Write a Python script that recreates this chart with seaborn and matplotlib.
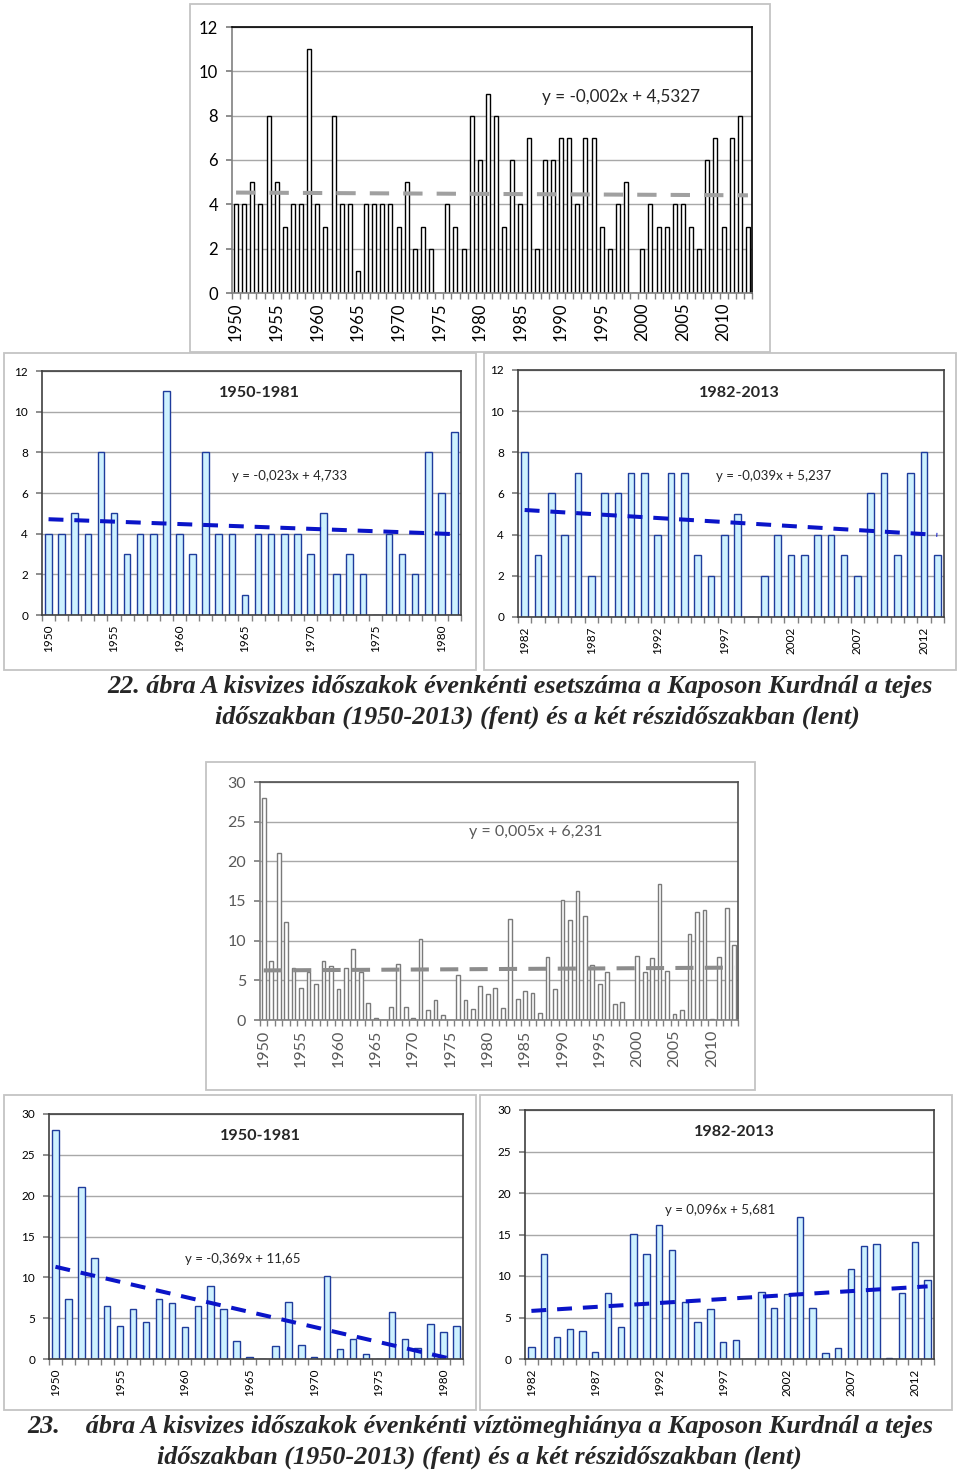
import matplotlib
matplotlib.use("Agg")
import matplotlib.pyplot as plt
import numpy as np
import pandas as pd
import seaborn as sns
from matplotlib.patches import Rectangle

sns.set_theme(style="white")
plt.rcParams["font.family"] = ["Lato", "DejaVu Sans"]

W, H = 960, 1473

YEARS_A = list(range(1950, 1982))
YEARS_B = list(range(1982, 2014))
YEARS_ALL = YEARS_A + YEARS_B

# evenkenti esetszam (number of low-flow periods per year)
EVENTS_A = [4, 4, 5, 4, 8, 5, 3, 4, 4, 11, 4, 3, 8, 4, 4, 1,
            4, 4, 4, 4, 3, 5, 2, 3, 2, 0, 4, 3, 2, 8, 6, 9]
EVENTS_B = [8, 3, 6, 4, 7, 2, 6, 6, 7, 7, 4, 7, 7, 3, 2, 4,
            5, 0, 2, 4, 3, 3, 4, 4, 3, 2, 6, 7, 3, 7, 8, 3]

# evenkenti viztomeghiany (water volume deficit per year)
DEFICIT_A = [28.0, 7.4, 21.1, 12.4, 6.5, 4.0, 6.1, 4.5, 7.4, 6.8, 3.9, 6.5, 9.0, 6.1, 2.2, 0.3,
             0.0, 1.6, 7.0, 1.7, 0.3, 10.2, 1.2, 2.5, 0.6, 0.0, 5.7, 2.5, 1.4, 4.3, 3.3, 4.0]
DEFICIT_B = [1.5, 12.7, 2.7, 3.6, 3.4, 0.9, 8.0, 3.9, 15.1, 12.6, 16.2, 13.1, 6.9, 4.5, 6.0, 2.0,
             2.3, 0.0, 8.1, 6.1, 7.8, 17.1, 6.2, 0.7, 1.3, 10.8, 13.6, 13.9, 0.15, 8.0, 14.1, 9.5]

EQ_TOP = "y = -0,002x + 4,5327"
EQ_MID_A = "y = -0,023x + 4,733"
EQ_MID_B = "y = -0,039x + 5,237"
EQ_LOW = "y = 0,005x + 6,231"
EQ_BOT_A = "y = -0,369x + 11,65"
EQ_BOT_B = "y = 0,096x + 5,681"

CAPTION_22 = ["22. ábra A kisvizes időszakok évenkénti esetszáma a Kaposon Kurdnál a tejes",
              "időszakban (1950-2013) (fent) és a két részidőszakban (lent)"]
CAPTION_23 = ["23.    ábra A kisvizes időszakok évenkénti víztömeghiánya a Kaposon Kurdnál a tejes",
              "időszakban (1950-2013) (fent) és a két részidőszakban (lent)"]

BLUE_FILL = "#cdf1ff"
BLUE_EDGE = "#1f3c9c"
BLUE_TREND = "#0a14c8"


def px_axes(fig, x0, y0, x1, y1):
    return fig.add_axes([x0 / W, 1 - y1 / H, (x1 - x0) / W, (y1 - y0) / H])


def chart_box(fig, x0, y0, x1, y1):
    fig.patches.append(Rectangle((x0 / W, 1 - y1 / H), (x1 - x0) / W, (y1 - y0) / H,
                                 transform=fig.transFigure, fill=False,
                                 ec="#c4c4c4", lw=1.3))


def draw_panel(ax, years, values, ymax, ystep, fill, edge, trend, dash, fs,
               tcolor="black", spine_lt="#808080", spine_rt="#404040"):
    n = len(years)
    df = pd.DataFrame({"year": years, "value": values})
    sns.barplot(data=df, x="year", y="value", ax=ax, color=fill, edgecolor=edge,
                linewidth=1, width=0.5, saturation=1, errorbar=None)
    pos = np.arange(n)
    sns.regplot(x=pos, y=np.asarray(values, float), ax=ax, scatter=False, ci=None,
                truncate=True, line_kws=dict(color=trend, lw=2.9, ls=(0, dash)))
    ax.set_xlim(-0.5, n - 0.5)
    ax.set_ylim(0, ymax)
    ax.set_yticks(np.arange(0, ymax + 1, ystep))
    ax.set_xticks(pos[::5])
    ax.set_xticklabels([str(y) for y in years[::5]], rotation=90)
    ax.set_xticks(np.arange(-0.5, n, 1), minor=True)
    ax.tick_params(axis="x", which="major", length=0, labelsize=fs, colors=tcolor, pad=7)
    ax.tick_params(axis="x", which="minor", length=4, color="#808080", bottom=True, width=1)
    ax.tick_params(axis="y", length=4, labelsize=fs, labelcolor=tcolor, left=True,
                   color="#808080", pad=6)
    ax.yaxis.grid(True, color="#a8a8a8", lw=1)
    ax.set_axisbelow(True)
    ax.set_xlabel("")
    ax.set_ylabel("")
    for side in ("left", "bottom"):
        ax.spines[side].set_color(spine_lt)
    for side in ("top", "right"):
        ax.spines[side].set_color(spine_rt)
    for s in ax.spines.values():
        s.set_linewidth(1.2)


fig = plt.figure(figsize=(W / 100, H / 100), dpi=100)
fig.patch.set_facecolor("white")

# ---- 22. abra: esetszam ----
chart_box(fig, 190, 4, 770, 352)
ax = px_axes(fig, 232, 27, 752, 293)
draw_panel(ax, YEARS_ALL, EVENTS_A + EVENTS_B, 12, 2, "white", "black", "#a0a0a0",
           (4.8, 3.5), 12, spine_rt="black")
ax.text(0.748, 0.737, EQ_TOP, transform=ax.transAxes, ha="center", va="center", fontsize=12.3)

chart_box(fig, 4, 353, 476, 670)
ax = px_axes(fig, 42, 371, 461, 615)
draw_panel(ax, YEARS_A, EVENTS_A, 12, 2, BLUE_FILL, BLUE_EDGE, BLUE_TREND, (3.7, 2.7), 8.5,
           spine_lt="#404040")
ax.text(0.52, 0.91, "1950-1981", transform=ax.transAxes, ha="center", va="center",
        fontsize=11.6, fontweight="bold")
ax.text(0.59, 0.57, EQ_MID_A, transform=ax.transAxes, ha="center", va="center", fontsize=9.5)

chart_box(fig, 484, 353, 956, 670)
ax = px_axes(fig, 518, 370, 944, 617)
draw_panel(ax, YEARS_B, EVENTS_B, 12, 2, BLUE_FILL, BLUE_EDGE, BLUE_TREND, (3.7, 2.7), 8.5,
           spine_lt="#404040")
ax.text(0.52, 0.907, "1982-2013", transform=ax.transAxes, ha="center", va="center",
        fontsize=11.6, fontweight="bold")
ax.text(0.60, 0.57, EQ_MID_B, transform=ax.transAxes, ha="center", va="center", fontsize=9.5)

cap_kw = dict(ha="center", va="center", fontsize=18.8, fontweight="bold", fontstyle="italic",
              family=["Liberation Serif", "DejaVu Serif"])
fig.text(520 / W, 1 - 687 / H, CAPTION_22[0], **cap_kw)
fig.text(537 / W, 1 - 717 / H, CAPTION_22[1], **cap_kw)

# ---- 23. abra: viztomeghiany ----
chart_box(fig, 206, 762, 755, 1090)
ax = px_axes(fig, 260, 782, 738, 1020)
draw_panel(ax, YEARS_ALL, DEFICIT_A + DEFICIT_B, 30, 5, "white", "#7a7a7a", "#8c8c8c",
           (4.5, 2.8), 11.5, tcolor="#595959", spine_rt="#505050")
ax.text(0.577, 0.79, EQ_LOW, transform=ax.transAxes, ha="center", va="center",
        fontsize=11.5, color="#595959")

chart_box(fig, 4, 1095, 476, 1410)
ax = px_axes(fig, 49, 1114, 463, 1359)
draw_panel(ax, YEARS_A, DEFICIT_A, 30, 5, BLUE_FILL, BLUE_EDGE, BLUE_TREND, (3.7, 2.7), 8.5,
           spine_lt="#404040")
ax.text(0.512, 0.91, "1950-1981", transform=ax.transAxes, ha="center", va="center",
        fontsize=11.6, fontweight="bold")
ax.text(0.469, 0.41, EQ_BOT_A, transform=ax.transAxes, ha="center", va="center", fontsize=9.5)

chart_box(fig, 480, 1095, 952, 1410)
ax = px_axes(fig, 525, 1110, 934, 1359)
draw_panel(ax, YEARS_B, DEFICIT_B, 30, 5, BLUE_FILL, BLUE_EDGE, BLUE_TREND, (3.7, 2.7), 8.5,
           spine_lt="#404040")
ax.text(0.513, 0.91, "1982-2013", transform=ax.transAxes, ha="center", va="center",
        fontsize=11.6, fontweight="bold")
ax.text(0.477, 0.60, EQ_BOT_B, transform=ax.transAxes, ha="center", va="center", fontsize=9.5)

fig.text(480 / W, 1 - 1427 / H, CAPTION_23[0], **cap_kw)
fig.text(479 / W, 1 - 1457 / H, CAPTION_23[1], **cap_kw)

fig.savefig("out.png", dpi=100)
